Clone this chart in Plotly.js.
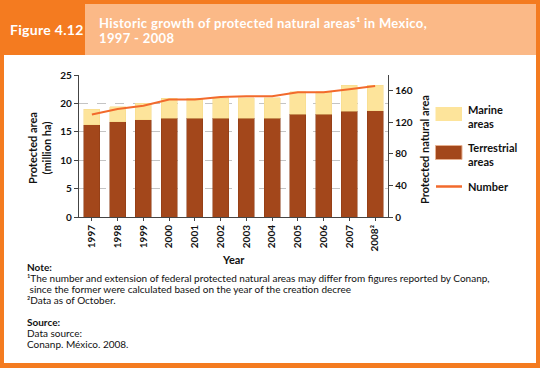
<!DOCTYPE html>
<html><head><meta charset="utf-8">
<script src="https://cdn.plot.ly/plotly-3.0.1.min.js"></script>
<style>
body{margin:0;width:540px;height:368px;overflow:hidden;font-family:Lato,"Open Sans",sans-serif;position:relative;}
#frame{position:absolute;left:0;top:0;width:540px;height:368px;background:#F47B20;}
#bodyw{position:absolute;left:4px;top:55px;width:532px;height:308px;background:#fff;}
#hdr{position:absolute;left:85px;top:4px;width:451px;height:51px;background:#FBB987;}
#fig{position:absolute;left:10px;top:21px;color:#fff;font-weight:bold;font-size:14px;letter-spacing:0.3px;}
.ttl{position:absolute;left:99px;color:#fff;font-weight:bold;font-size:13px;line-height:15px;letter-spacing:0.35px;white-space:nowrap;}
#notes{position:absolute;left:27px;top:262px;font-size:10px;line-height:11px;color:#111;}
#notes b{font-weight:bold;}
#chart{position:absolute;left:0;top:0;width:540px;height:368px;}
</style></head>
<body>
<div id="frame"></div>
<div id="bodyw"></div>
<div id="hdr"></div>
<div id="fig">Figure 4.12</div>
<div class="ttl" style="top:16px">Historic growth of protected natural areas¹ in Mexico,</div>
<div class="ttl" style="top:31px">1997 - 2008</div>
<div id="notes">
<b>Note:</b><br>
¹The number and extension of federal protected natural areas may differ from figures reported by Conanp,<br>
&nbsp;since the former were calculated based on the year of the creation decree<br>
²Data as of October.<br>
<br>
<b>Source:</b><br>
Data source:<br>
Conanp. México. 2008.
</div>
<div id="chart"></div>
<script>
const years = ["1997","1998","1999","2000","2001","2002","2003","2004","2005","2006","2007","2008²"];
const terrestrial = [16.2, 16.8, 17.1, 17.4, 17.4, 17.4, 17.4, 17.4, 18.1, 18.1, 18.6, 18.7];
const marine = [2.8, 2.6, 2.9, 3.5, 3.5, 3.5, 3.6, 3.6, 3.95, 3.95, 4.6, 4.5];
const numberOfAreas = [130, 137, 141, 149, 149, 152, 153, 153, 158, 158, 162, 166];

const brown = '#A3471B', cream = '#FDE49B', orange = '#F26A2C';
const tickFont = {family:'Lato, sans-serif', size:10, color:'#111', weight:'bold'};
const titleFont = {family:'Lato, sans-serif', size:11, color:'#111', weight:'bold'};

const data = [
  {type:'bar', x:years, y:terrestrial, name:'Terrestrial areas', marker:{color:brown, line:{color:'#8a3a14', width:0.5}}, showlegend:false},
  {type:'bar', x:years, y:marine, name:'Marine areas', marker:{color:cream, line:{color:'#f5d98a', width:0.5}}, showlegend:false},
  {type:'scatter', mode:'lines', x:years, y:numberOfAreas, yaxis:'y2', name:'Number', line:{color:orange, width:2}, showlegend:false}
];

const L=79, R=388, T=75, B=217;
const px = v => (v-L)/(R-L);
const py = v => (B-v)/(B-T);

const shapes = [
  {type:'rect', xref:'paper', yref:'paper', x0:px(435.5), x1:px(462), y0:py(121), y1:py(107), fillcolor:cream, line:{width:0}},
  {type:'rect', xref:'paper', yref:'paper', x0:px(435.5), x1:px(462), y0:py(159.5), y1:py(145.5), fillcolor:brown, line:{color:'#e6b090', width:1}},
  {type:'line', xref:'paper', yref:'paper', x0:px(436), x1:px(462), y0:py(186.5), y1:py(186.5), line:{color:orange, width:2.5}}
];
const legFont = {family:'Lato, sans-serif', size:11, color:'#111', weight:'bold'};
const annotations = [
  {xref:'paper', yref:'paper', x:px(466), y:py(116.5), xanchor:'left', yanchor:'middle', align:'left', showarrow:false, text:'Marine<br>areas', font:legFont},
  {xref:'paper', yref:'paper', x:px(466), y:py(154.5), xanchor:'left', yanchor:'middle', align:'left', showarrow:false, text:'Terrestrial<br>areas', font:legFont},
  {xref:'paper', yref:'paper', x:px(466), y:py(186.5), xanchor:'left', yanchor:'middle', align:'left', showarrow:false, text:'Number', font:legFont},
  {xref:'paper', yref:'paper', x:px(39), y:py(148), xanchor:'center', yanchor:'middle', textangle:-90, showarrow:false, text:'Protected area<br>(million ha)', font:titleFont},
  {xref:'paper', yref:'paper', x:px(424), y:py(150), xanchor:'center', yanchor:'middle', textangle:-90, showarrow:false, text:'Protected natural area', font:titleFont},
  {xref:'paper', yref:'paper', x:px(233), y:py(259), xanchor:'center', yanchor:'middle', showarrow:false, text:'Year', font:titleFont}
];

const layout = {
  width:540, height:368,
  margin:{l:L, r:540-R, t:T, b:368-B, pad:0},
  paper_bgcolor:'rgba(0,0,0,0)', plot_bgcolor:'rgba(0,0,0,0)',
  barmode:'stack', bargap:0.37,
  showlegend:false,
  xaxis:{type:'category', tickangle:-90, tickfont:tickFont, showline:true, linecolor:'#444', linewidth:1,
         ticks:'outside', ticklen:3, tickcolor:'#444', showgrid:false, fixedrange:true},
  yaxis:{range:[0,25], dtick:5, tickfont:tickFont, showline:true, linecolor:'#444', linewidth:1.2,
         ticks:'outside', ticklen:4, tickcolor:'#444', showgrid:true, gridcolor:'#c4c4c4', griddash:'dash', gridwidth:1,
         zeroline:false},
  yaxis2:{overlaying:'y', side:'right', range:[0,180], tickvals:[0,40,80,120,160], tickfont:tickFont, showline:true,
          linecolor:'#444', linewidth:1.2, ticks:'outside', ticklen:4, tickcolor:'#444', showgrid:false, zeroline:false},
  shapes:shapes, annotations:annotations
};
Plotly.newPlot('chart', data, layout, {displayModeBar:false, staticPlot:true});
</script>
</body></html>
